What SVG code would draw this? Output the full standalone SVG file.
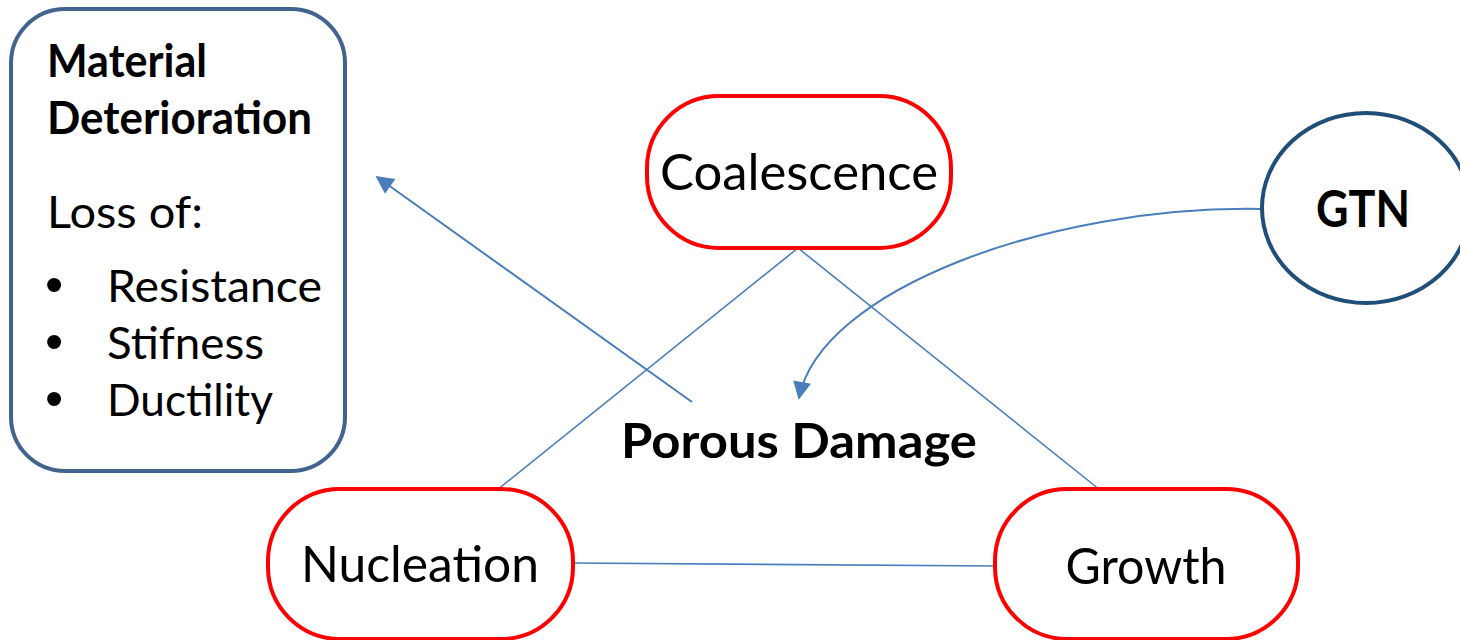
<svg xmlns="http://www.w3.org/2000/svg" width="1460" height="640" viewBox="0 0 1460 640">
  <defs>
    <marker id="arrow" viewBox="0 0 10 10" refX="9" refY="5" markerWidth="10" markerHeight="9" markerUnits="strokeWidth" orient="auto">
      <path d="M0,0 L10,5 L0,10 z" fill="#4a7ebb"/>
    </marker>
    <style>
      .pill { fill: #ffffff; stroke: #ff0000; stroke-width: 4; }
      .label { font-family: Lato, "Open Sans", "Liberation Sans", sans-serif; fill: #000000; }
      .bold { font-weight: bold; }
      .bullet { font-family: "Liberation Sans", sans-serif; fill: #000000; }
      .link { fill: none; stroke: #4a7ebb; stroke-width: 1.6; }
      .arrow { fill: none; stroke: #4a7ebb; stroke-width: 2; }
    </style>
  </defs>

  <rect width="1460" height="640" fill="#ffffff"/>

  <!-- connectors -->
  <g id="connectors">
    <line class="link" x1="798" y1="248" x2="497" y2="490"/>
    <line class="link" x1="798" y1="248" x2="1100" y2="490"/>
    <line class="link" x1="573" y1="563" x2="995" y2="566"/>
    <line class="arrow" x1="692" y1="402" x2="377" y2="177" marker-end="url(#arrow)"/>
    <path class="arrow" d="M1262,209 C1050,205 820,290 799,398" marker-end="url(#arrow)"/>
  </g>

  <!-- Material deterioration box -->
  <g id="material">
    <rect x="11" y="9" width="334" height="462" rx="54" ry="54" fill="#ffffff" stroke="#41648f" stroke-width="4"/>
    <text class="label bold" x="47" y="77" font-size="46" textLength="160" lengthAdjust="spacingAndGlyphs">Material</text>
    <text class="label bold" x="47" y="134" font-size="46" textLength="265" lengthAdjust="spacingAndGlyphs">Deterioration</text>
    <text class="label" x="47" y="228" font-size="44" textLength="156" lengthAdjust="spacingAndGlyphs">Loss of:</text>
    <text class="bullet" x="45" y="302" font-size="52">•</text>
    <text class="label" x="107" y="302" font-size="44" textLength="215" lengthAdjust="spacingAndGlyphs">Resistance</text>
    <text class="bullet" x="45" y="359" font-size="52">•</text>
    <text class="label" x="107" y="359" font-size="44" textLength="157" lengthAdjust="spacingAndGlyphs">Stifness</text>
    <text class="bullet" x="45" y="416" font-size="52">•</text>
    <text class="label" x="107" y="416" font-size="44" textLength="166" lengthAdjust="spacingAndGlyphs">Ductility</text>
  </g>

  <!-- Coalescence -->
  <g id="coalescence">
    <rect class="pill" x="647" y="96" width="304" height="152" rx="72" ry="72"/>
    <text class="label" x="799" y="190" font-size="51" text-anchor="middle" textLength="278" lengthAdjust="spacingAndGlyphs">Coalescence</text>
  </g>

  <!-- GTN -->
  <g id="gtn">
    <ellipse cx="1366" cy="208" rx="104" ry="95" fill="#ffffff" stroke="#1f4e79" stroke-width="4"/>
    <text class="label bold" x="1363" y="227" font-size="51" text-anchor="middle" textLength="94" lengthAdjust="spacingAndGlyphs">GTN</text>
  </g>

  <!-- Porous damage label -->
  <g id="porous-damage">
    <text class="label bold" x="621" y="458" font-size="48" textLength="356" lengthAdjust="spacingAndGlyphs">Porous Damage</text>
  </g>

  <!-- Nucleation -->
  <g id="nucleation">
    <rect class="pill" x="268" y="489" width="305" height="150" rx="72" ry="72"/>
    <text class="label" x="420" y="582" font-size="51" text-anchor="middle" textLength="238" lengthAdjust="spacingAndGlyphs">Nucleation</text>
  </g>

  <!-- Growth -->
  <g id="growth">
    <rect class="pill" x="995" y="489" width="303" height="150" rx="72" ry="72"/>
    <text class="label" x="1146" y="584" font-size="51" text-anchor="middle" textLength="161" lengthAdjust="spacingAndGlyphs">Growth</text>
  </g>
</svg>
